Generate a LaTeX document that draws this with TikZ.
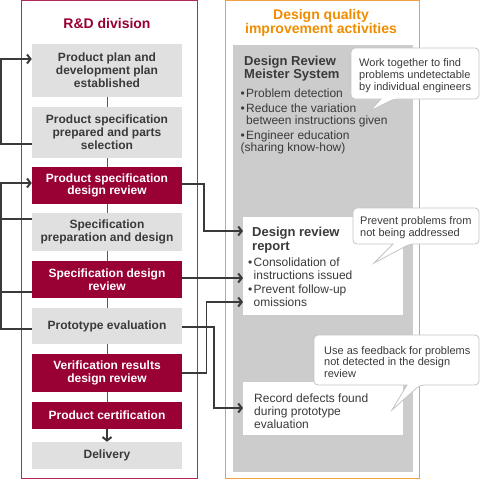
\documentclass[tikz,border=0pt]{standalone}
\usepackage{fontspec}
\setmainfont{Liberation Sans}
\usetikzlibrary{arrows.meta}
\definecolor{drred}{HTML}{990033}
\definecolor{redline}{HTML}{B3285A}
\definecolor{orng}{HTML}{F08C00}
\definecolor{orline}{HTML}{F0A040}
\definecolor{nodegray}{HTML}{E0E0E0}
\definecolor{panelgray}{HTML}{CCCCCC}
\definecolor{txtdark}{HTML}{3A3A3A}
\definecolor{linedark}{HTML}{3A3A3A}
\definecolor{callborder}{HTML}{C4C4C4}
\newcommand{\fsz}[2]{\fontsize{#1pt}{#2pt}\selectfont}
\newcommand{\bul}{\makebox[5.5pt][l]{•}}
\newcommand{\ind}{\hspace*{5.5pt}}
\begin{document}
\begin{tikzpicture}[x=1pt,y=-1pt,
  flow/.style={minimum width=150pt, inner sep=0pt, align=center, font=\bfseries\fsz{12}{12.8}},
  grayflow/.style={flow, fill=nodegray, text=txtdark},
  redflow/.style={flow, fill=drred, text=white},
  conn/.style={draw=linedark, line width=1.2pt},
  chev/.style={-{Straight Barb[length=3.5pt,width=9pt,line width=2pt]}},
  arr/.style={conn, chev},
  vlink/.style={draw=linedark!85, line width=0.8pt},
  whitebox/.style={fill=white, draw=none, inner sep=0pt},
  txt/.style={inner sep=0pt, anchor=north west, align=left, text=txtdark},
  callout/.style={fill=white, draw=callborder, line width=0.8pt},
  title/.style={inner sep=0pt, align=center, font=\bfseries\fsz{14}{13}}
]
\useasboundingbox (0,0) rectangle (480,480);
% frames
\draw[redline, line width=1pt] (21,0.5) rectangle (197,478.5);
\draw[orline, line width=1pt] (225.5,0.5) rectangle (419,478.5);
\fill[panelgray] (233,45) rectangle (413,472);
% titles
\node[title, text=drred] (t1) at (107,23) {R\&D division};
\node[title, text=orng] (t2) at (321,23) {Design quality\\improvement activities};
% flow nodes
\node[grayflow, minimum height=53pt] (n1) at (107,70.5) {Product plan and\\development plan\\established};
\node[grayflow, minimum height=51pt] (n2) at (107,132.5) {Product specification\\prepared and parts\\selection};
\node[redflow, minimum height=37pt] (n3) at (107,185.5) {Product specification\\design review};
\node[grayflow, minimum height=38pt] (n4) at (107,232) {Specification\\preparation and design};
\node[redflow, minimum height=37pt] (n5) at (107,279.5) {Specification design\\review};
\node[grayflow, minimum height=36pt] (n6) at (107,326) {Prototype evaluation};
\node[redflow, minimum height=38pt] (n7) at (107,373) {Verification results\\design review};
\node[redflow, minimum height=27pt] (n8) at (107,415.5) {Product certification};
\node[grayflow, minimum height=27pt] (n9) at (107,455.5) {Delivery};
\foreach \a/\b in {n1/n2,n2/n3,n3/n4,n4/n5,n5/n6,n6/n7,n7/n8}
  \draw[vlink] (\a.south) -- (\b.north);
\draw[conn, chev] (n8.south) -- (n9.north);
% right panel contents
\node[txt, font=\bfseries\fsz{13}{13}] (ms) at (244,56) {Design Review\\Meister System};
\node[txt, font=\fsz{12}{12.3}] (msb) at (240.5,88.5) {\bul Problem detection\\[2.4pt]\bul Reduce the variation\\\ind between instructions given\\[2.4pt]\bul Engineer education\\(sharing know-how)};
\node[whitebox, minimum width=160pt, minimum height=98pt, anchor=north west] (rep) at (243,217) {};
\node[txt, font=\bfseries\fsz{13}{13.7}] (rept) at (252,227) {Design review\\report};
\node[txt, font=\fsz{12}{13.3}] (repb) at (248,257.5) {\bul Consolidation of\\\ind instructions issued\\\bul Prevent follow-up\\\ind omissions};
\node[whitebox, minimum width=160pt, minimum height=53pt, anchor=north west] (rec) at (243,382) {};
\node[txt, font=\fsz{12}{13}] (rect) at (254,393.5) {Record defects found\\during prototype\\evaluation};
% connectors left
\draw[arr] (n2.west |- 0,144) -- (1,144) -- (1,59) -- (n1.west |- 0,59);
\draw[arr] (n6.west |- 0,329) -- (1,329) -- (1,183) -- (n3.west |- 0,183);
\draw[conn] (n4.west |- 0,219) -- (1,219);
\draw[conn] (n5.west |- 0,292) -- (1,292);
% connectors right
\draw[arr] (n3.east |- 0,184) -- (204,184) -- (204,231) -- (rep.west |- 0,231);
\draw[arr] (n5.east |- 0,278) -- (rep.west |- 0,278);
\draw[arr] (n7.east |- 0,373) -- (206.5,373) -- (206.5,302) -- (rep.west |- 0,302);
\draw[arr] (n6.east |- 0,327) -- (214,327) -- (214,408) -- (rec.west |- 0,408);
% callouts
\draw[callout, rounded corners=4pt] (351,48) -- (479,48) -- (479,99) -- (394,99) [sharp corners] -- (370,111) -- (381,99) [rounded corners=4pt] -- (351,99) -- cycle;
\node[txt, font=\fsz{11}{12}] (c1) at (359,58) {Work together to find\\problems undetectable\\by individual engineers};
\draw[callout, rounded corners=4pt] (353,208) -- (479,208) -- (479,244) -- (410,244) [sharp corners] -- (374,263) -- (393,244) [rounded corners=4pt] -- (353,244) -- cycle;
\node[txt, font=\fsz{11}{12}] (c2) at (360,216) {Prevent problems from\\not being addressed};
\draw[callout, rounded corners=4pt] (314,335) -- (479,335) -- (479,385) -- (420,385) [sharp corners] -- (392,410) -- (407,385) [rounded corners=4pt] -- (314,385) -- cycle;
\node[txt, font=\fsz{11}{11.7}] (c3) at (324,346) {Use as feedback for problems\\not detected in the design\\review};
\end{tikzpicture}
\end{document}
